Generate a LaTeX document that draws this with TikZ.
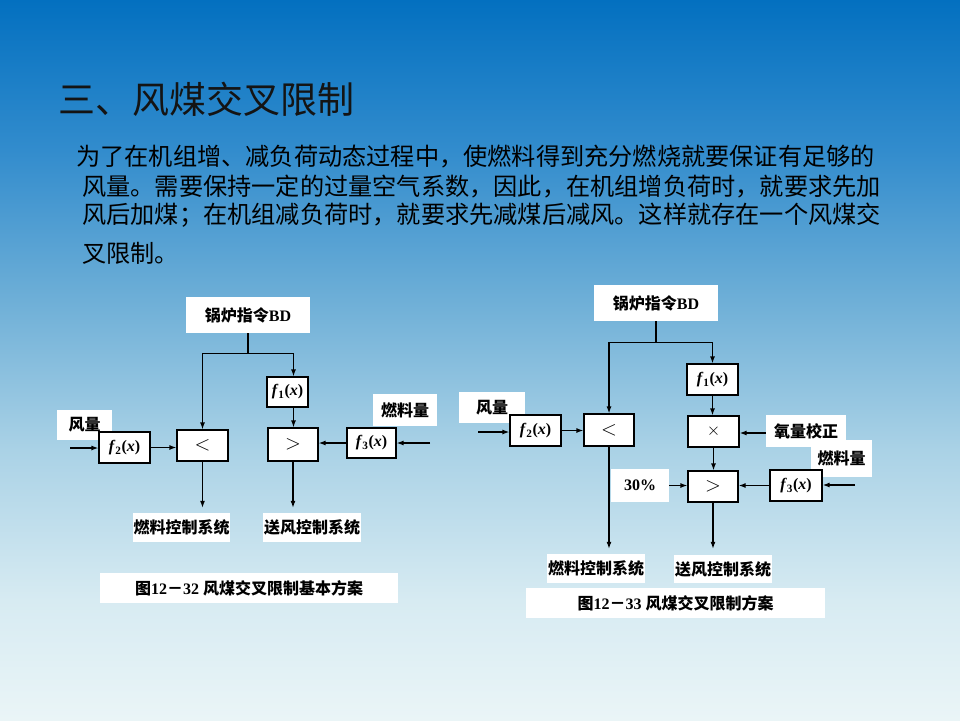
\documentclass[tikz,border=0pt]{standalone}
\usepackage{graphicx}
\usepackage{fontspec}
\setmainfont{Liberation Serif}
\newfontfamily\cjk{Noto Sans CJK SC}
\usetikzlibrary{arrows.meta}
\definecolor{bgA}{RGB}{3,112,192}
\definecolor{bgB}{RGB}{50,140,205}
\definecolor{bgC}{RGB}{110,175,215}
\definecolor{bgD}{RGB}{170,210,230}
\definecolor{bgE}{RGB}{215,235,242}
\definecolor{bgF}{RGB}{234,245,247}
\pgfdeclareverticalshading{slidebg}{100bp}{color(0bp)=(bgF); color(25bp)=(bgF); color(33.33bp)=(bgE); color(43.75bp)=(bgD); color(54.17bp)=(bgC); color(64.58bp)=(bgB); color(75bp)=(bgA); color(100bp)=(bgA)}
\newcommand\lblfont{\fontsize{16}{18}\selectfont\bfseries}
\newcommand\fxx[1]{\textit{f}\textsubscript{#1}(\textit{x})}
\tikzset{
  lbl/.style={fill=white, inner sep=0pt, font=\lblfont},
  blk/.style={draw=black, fill=white, line width=1.2pt, inner sep=0pt, font=\lblfont},
  ln/.style={draw=black, line width=1.2pt},
  arr/.style={draw=black, line width=1.2pt, -{Latex[length=7pt,width=5pt]}},
  body/.style={anchor=west, inner sep=0pt, text=black, font=\cjk\fontsize{24.2}{26}\selectfont}
}
\begin{document}
\begin{tikzpicture}[x=1pt,y=-1pt]
\useasboundingbox (0,0) rectangle (960,720);
\shade[shading=slidebg] (0,0) rectangle (960,720);

% title and text
\node[anchor=west, inner sep=0pt, text=black!92, font=\cjk\fontsize{37}{40}\selectfont] (title) at (58,99) {三、风煤交叉限制};
\node[body] (t1) at (76,157) {为了在机组增、减负荷动态过程中，使燃料得到充分燃烧就要保证有足够的};
\node[body] (t2) at (82,187) {风量。需要保持一定的过量空气系数，因此，在机组增负荷时，就要求先加};
\node[body] (t3) at (82,215) {风后加煤；在机组减负荷时，就要求先减煤后减风。这样就存在一个风煤交};
\node[body] (t4) at (82,253) {叉限制。};

% ---------- left diagram ----------
\node[lbl, minimum width=124pt, minimum height=36pt] (bd1) at (248,315) {{\cjk 锅炉指令}BD};
\node[lbl, minimum width=55pt, minimum height=30pt] (fl1) at (84.5,425) {\cjk 风量};
\node[lbl, minimum width=64pt, minimum height=32pt] (rl1) at (405,410) {\cjk 燃料量};
\node[lbl, minimum width=97pt, minimum height=29pt] (ctlF1) at (181.5,527.5) {\cjk 燃料控制系统};
\node[lbl, minimum width=98pt, minimum height=29pt] (ctlA1) at (312,527.5) {\cjk 送风控制系统};
\node[lbl, minimum width=298pt, minimum height=30pt] (cap1) at (249,588) {{\cjk 图}12{\cjk －}32 {\cjk 风煤交叉限制基本方案}};

\node[blk, minimum width=41pt, minimum height=30pt] (f1L) at (287.5,392) {\fxx{1}};
\node[blk, minimum width=50pt, minimum height=33pt] (gtL) at (293,444.5) {\normalfont\fontsize{20}{22}\selectfont$>$};
\node[blk, minimum width=51pt, minimum height=31pt] (ltL) at (202.5,445.5) {\normalfont\fontsize{20}{22}\selectfont$<$};
\node[blk, minimum width=51pt, minimum height=31pt] (f2L) at (124.5,447.5) {\fxx{2}};
\node[blk, minimum width=49pt, minimum height=30pt] (f3L) at (371.5,443) {\fxx{3}};

\draw[ln] (bd1.south) -- ++(0,20) coordinate (j1);
\draw[arr] (j1) -| (ltL.north);
\draw[arr] (j1) -| ([xshift=6pt]f1L.north);
\draw[arr] ([xshift=6pt]f1L.south) -- ([xshift=6pt]f1L.south |- gtL.north);
\coordinate (inL) at (70,448);
\draw[arr] (inL) -- (inL -| f2L.west);
\draw[arr] (f2L.east) -- (f2L.east -| ltL.west);
\coordinate (inF) at (430,443);
\draw[arr] (inF) -- (inF -| f3L.east);
\draw[arr] (f3L.west) -- (f3L.west -| gtL.east);
\draw[arr] (ltL.south) -- ([yshift=5pt]ctlF1.north -| ltL.south);
\draw[arr] (gtL.south) -- ([yshift=5pt]ctlA1.north -| gtL.south);

% ---------- right diagram ----------
\node[lbl, minimum width=124pt, minimum height=36pt] (bd2) at (656,303) {{\cjk 锅炉指令}BD};
\node[lbl, minimum width=66pt, minimum height=31pt] (fl2) at (492,407.5) {\cjk 风量};
\node[lbl, minimum width=80pt, minimum height=32pt] (o2) at (806,431) {\cjk 氧量校正};
\node[lbl, minimum width=61pt, minimum height=37pt] (rl2) at (841.5,458.5) {\cjk 燃料量};
\node[lbl, minimum width=58pt, minimum height=33pt] (p30) at (640,485.5) {30\%};
\node[lbl, minimum width=98pt, minimum height=29pt] (ctlF2) at (596,568.5) {\cjk 燃料控制系统};
\node[lbl, minimum width=98pt, minimum height=28pt] (ctlA2) at (723,569) {\cjk 送风控制系统};
\node[lbl, minimum width=299pt, minimum height=30pt] (cap2) at (675.5,603) {{\cjk 图}12{\cjk －}33 {\cjk 风煤交叉限制方案}};

\node[blk, minimum width=51pt, minimum height=31pt] (f1R) at (712.5,379.5) {\fxx{1}};
\node[blk, minimum width=51pt, minimum height=31pt] (mulR) at (713.5,431.5) {\normalfont\fontsize{18}{20}\selectfont$\times$};
\node[blk, minimum width=50pt, minimum height=31pt] (gtR) at (713,486.5) {\normalfont\fontsize{20}{22}\selectfont$>$};
\node[blk, minimum width=52pt, minimum height=31pt] (f3R) at (796,485.5) {\fxx{3}};
\node[blk, minimum width=50pt, minimum height=32pt] (ltR) at (609,430) {\normalfont\fontsize{20}{22}\selectfont$<$};
\node[blk, minimum width=51pt, minimum height=31pt] (f2R) at (535.5,430.5) {\fxx{2}};

\draw[ln] (bd2.south) -- ++(0,21) coordinate (j2);
\draw[arr] (j2) -| (ltR.north);
\draw[arr] (j2) -| (f1R.north);
\draw[arr] (f1R.south) -- (f1R.south |- mulR.north);
\draw[arr] ([yshift=-2pt]o2.west) -- ([yshift=-2pt]o2.west -| mulR.east);
\draw[arr] (mulR.south) -- (mulR.south |- gtR.north);
\draw[arr] (p30.east) -- (p30.east -| gtR.west);
\coordinate (in2) at (855,485);
\draw[arr] (in2) -- (in2 -| f3R.east);
\draw[arr] (f3R.west) -- (f3R.west -| gtR.east);
\coordinate (in1) at (478,432);
\draw[arr] (in1) -- (in1 -| f2R.west);
\draw[arr] (f2R.east) -- (f2R.east -| ltR.west);
\draw[arr] (ltR.south) -- ([yshift=5pt]ctlF2.north -| ltR.south);
\draw[arr] (gtR.south) -- ([yshift=6pt]ctlA2.north -| gtR.south);
\end{tikzpicture}
\end{document}
